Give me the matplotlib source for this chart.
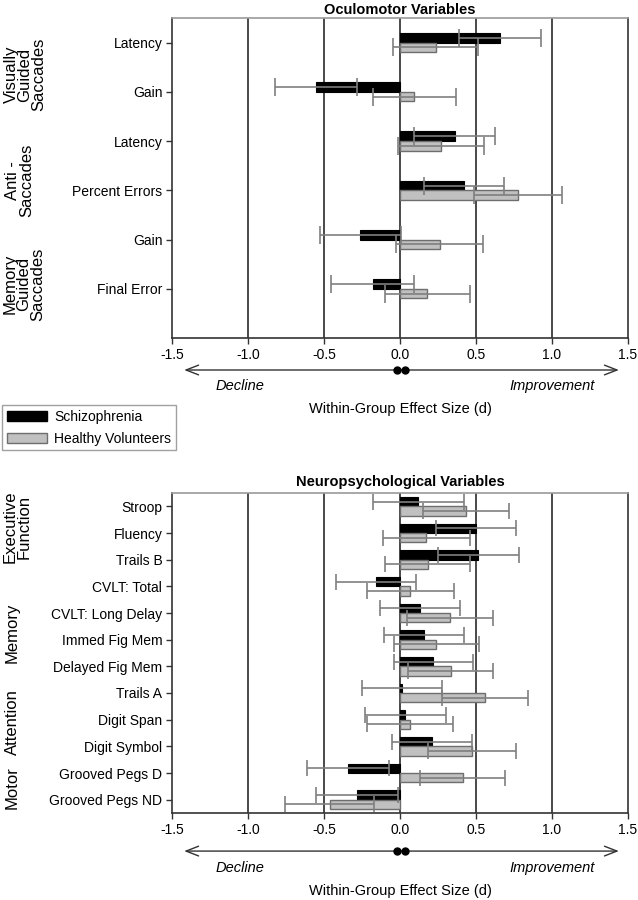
import matplotlib
matplotlib.use("Agg")
import matplotlib.pyplot as plt
import matplotlib.transforms as mtransforms
from matplotlib.patches import Patch
import numpy as np

plt.rcParams["font.family"] = ["Liberation Sans", "DejaVu Sans"]

# Oculomotor panel data
oc_labels = ["Latency", "Gain", "Latency", "Percent Errors", "Gain", "Final Error"]
oc_sz = [0.66, -0.55, 0.36, 0.42, -0.26, -0.18]
oc_sz_err = [0.27, 0.27, 0.265, 0.265, 0.267, 0.275]
oc_hv = [0.235, 0.095, 0.27, 0.775, 0.26, 0.18]
oc_hv_err = [0.28, 0.275, 0.28, 0.29, 0.285, 0.28]
oc_groups = ["Visually\nGuided\nSaccades", "Anti -\nSaccades", "Memory\nGuided\nSaccades"]
oc_group_pos = [0.65, 2.8, 4.9]

# Neuropsychological panel data
np_labels = ["Stroop", "Fluency", "Trails B", "CVLT: Total", "CVLT: Long Delay",
             "Immed Fig Mem", "Delayed Fig Mem", "Trails A", "Digit Span",
             "Digit Symbol", "Grooved Pegs D", "Grooved Pegs ND"]
np_sz = [0.12, 0.50, 0.515, -0.16, 0.13, 0.16, 0.22, 0.013, 0.035, 0.21, -0.345, -0.283]
np_sz_err = [0.30, 0.265, 0.267, 0.262, 0.263, 0.263, 0.262, 0.265, 0.265, 0.262, 0.27, 0.27]
np_hv = [0.435, 0.173, 0.182, 0.068, 0.33, 0.24, 0.333, 0.561, 0.068, 0.476, 0.414, -0.463]
np_hv_err = [0.285, 0.285, 0.278, 0.284, 0.285, 0.28, 0.28, 0.283, 0.283, 0.29, 0.28, 0.294]
np_groups = ["Executive\nFunction", "Memory", "Attention", "Motor"]
np_group_pos = [0.76, 4.75, 8.1, 10.55]

xticks = [-1.5, -1.0, -0.5, 0.0, 0.5, 1.0, 1.5]
series_names = ["Schizophrenia", "Healthy Volunteers"]

SZ_COLOR = "black"
HV_COLOR = "#c0c0c0"
HV_EDGE = "#6e6e6e"
ERR_COLOR = "#7f7f7f"
GRID_COLOR = "#3a3a3a"

W, H = 638, 900
fig = plt.figure(figsize=(W / 100, H / 100), dpi=100)


def draw_panel(rect, title, labels, sz, sz_err, hv, hv_err, groups, group_pos,
               height, ylim, capsize, title_pad, group_x, offs):
    ax = fig.add_axes(rect)
    y = np.arange(len(labels))
    for xv in [-1.0, -0.5, 0.0, 0.5, 1.0]:
        ax.axvline(xv, color=GRID_COLOR, lw=1.3, zorder=1)
    ax.barh(y - height / 2, sz, height=height, color=SZ_COLOR,
            edgecolor="black", lw=0.8, zorder=2)
    ax.barh(y + height / 2, hv, height=height, color=HV_COLOR,
            edgecolor=HV_EDGE, lw=1.0, zorder=2)
    ax.errorbar(sz, y - height / 2, xerr=sz_err, fmt="none", ecolor=ERR_COLOR,
                elinewidth=1.2, capsize=capsize, capthick=1.2, zorder=3)
    ax.errorbar(hv, y + height / 2, xerr=hv_err, fmt="none", ecolor=ERR_COLOR,
                elinewidth=1.2, capsize=capsize, capthick=1.2, zorder=3)
    ax.set_xlim(-1.5, 1.5)
    ax.set_ylim(*ylim)
    ax.set_xticks(xticks)
    ax.set_xticklabels(["%.1f" % v for v in xticks], fontsize=10)
    ax.set_yticks(y)
    ax.set_yticklabels(labels, fontsize=10)
    ax.tick_params(axis="both", length=4, width=1, color="#333333", pad=3)
    for s in ["left", "bottom", "right"]:
        ax.spines[s].set_color("#333333")
        ax.spines[s].set_linewidth(1.2)
    ax.spines["top"].set_color("#9a9a9a")
    ax.spines["top"].set_linewidth(1.2)
    ax.set_title(title, fontsize=10.5, fontweight="bold", pad=title_pad)

    tr = mtransforms.blended_transform_factory(ax.transAxes, ax.transData)
    for g, gp, gx in zip(groups, group_pos, group_x):
        ax.text(gx, gp, g, transform=tr, rotation=90, ha="center", va="center",
                multialignment="center", fontsize=12, linespacing=0.92,
                clip_on=False)

    # direction arrow under the axis
    xt = ax.get_xaxis_transform()
    ax.annotate("", xy=(-1.42, offs[0]), xytext=(1.44, offs[0]), xycoords=xt,
                textcoords=xt,
                arrowprops=dict(arrowstyle="<->,head_length=0.9,head_width=0.35",
                                color="#333333", lw=1.0,
                                shrinkA=0, shrinkB=0), annotation_clip=False)
    ax.plot([-0.018, 0.035], [offs[0], offs[0]], "o", color="black", ms=5,
            transform=xt, clip_on=False, zorder=5)
    ax.text(-1.05, offs[1], "Decline", transform=xt, ha="center", va="center",
            fontsize=10.5, style="italic")
    ax.text(1.0, offs[1], "Improvement", transform=xt, ha="center", va="center",
            fontsize=10.5, style="italic")
    ax.text(0.0, offs[2], "Within-Group Effect Size (d)", transform=xt,
            ha="center", va="center", fontsize=10.5)
    return ax


left = 172 / W
width = (628 - 172) / W
ax1 = draw_panel([left, 1 - 338 / H, width, 320 / H], "Oculomotor Variables",
                 oc_labels, oc_sz, oc_sz_err, oc_hv, oc_hv_err, oc_groups,
                 oc_group_pos, 0.195, (6.0, -0.5), 6.5, 3,
                 [(25 - 172) / 456, (20 - 172) / 456, (24 - 172) / 456],
                 (-0.10, -0.15, -0.222))
ax2 = draw_panel([left, 1 - 813 / H, width, 320 / H], "Neuropsychological Variables",
                 np_labels, np_sz, np_sz_err, np_hv, np_hv_err, np_groups,
                 np_group_pos, 0.35, (11.5, -0.5), 6, 5,
                 [(17 - 172) / 456, (12 - 172) / 456, (12 - 172) / 456, (12 - 172) / 456],
                 (-0.119, -0.172, -0.244))

handles = [Patch(facecolor=SZ_COLOR, edgecolor="black"),
           Patch(facecolor=HV_COLOR, edgecolor=HV_EDGE)]
fig.legend(handles, series_names, loc="upper left",
           bbox_to_anchor=(2 / W, 1 - 405 / H), fontsize=10, frameon=True,
           fancybox=False, edgecolor="#888888", handlelength=2.9,
           handleheight=0.75, handletextpad=0.5, borderpad=0.35,
           labelspacing=0.55, borderaxespad=0)

plt.savefig("out.png", dpi=100)
